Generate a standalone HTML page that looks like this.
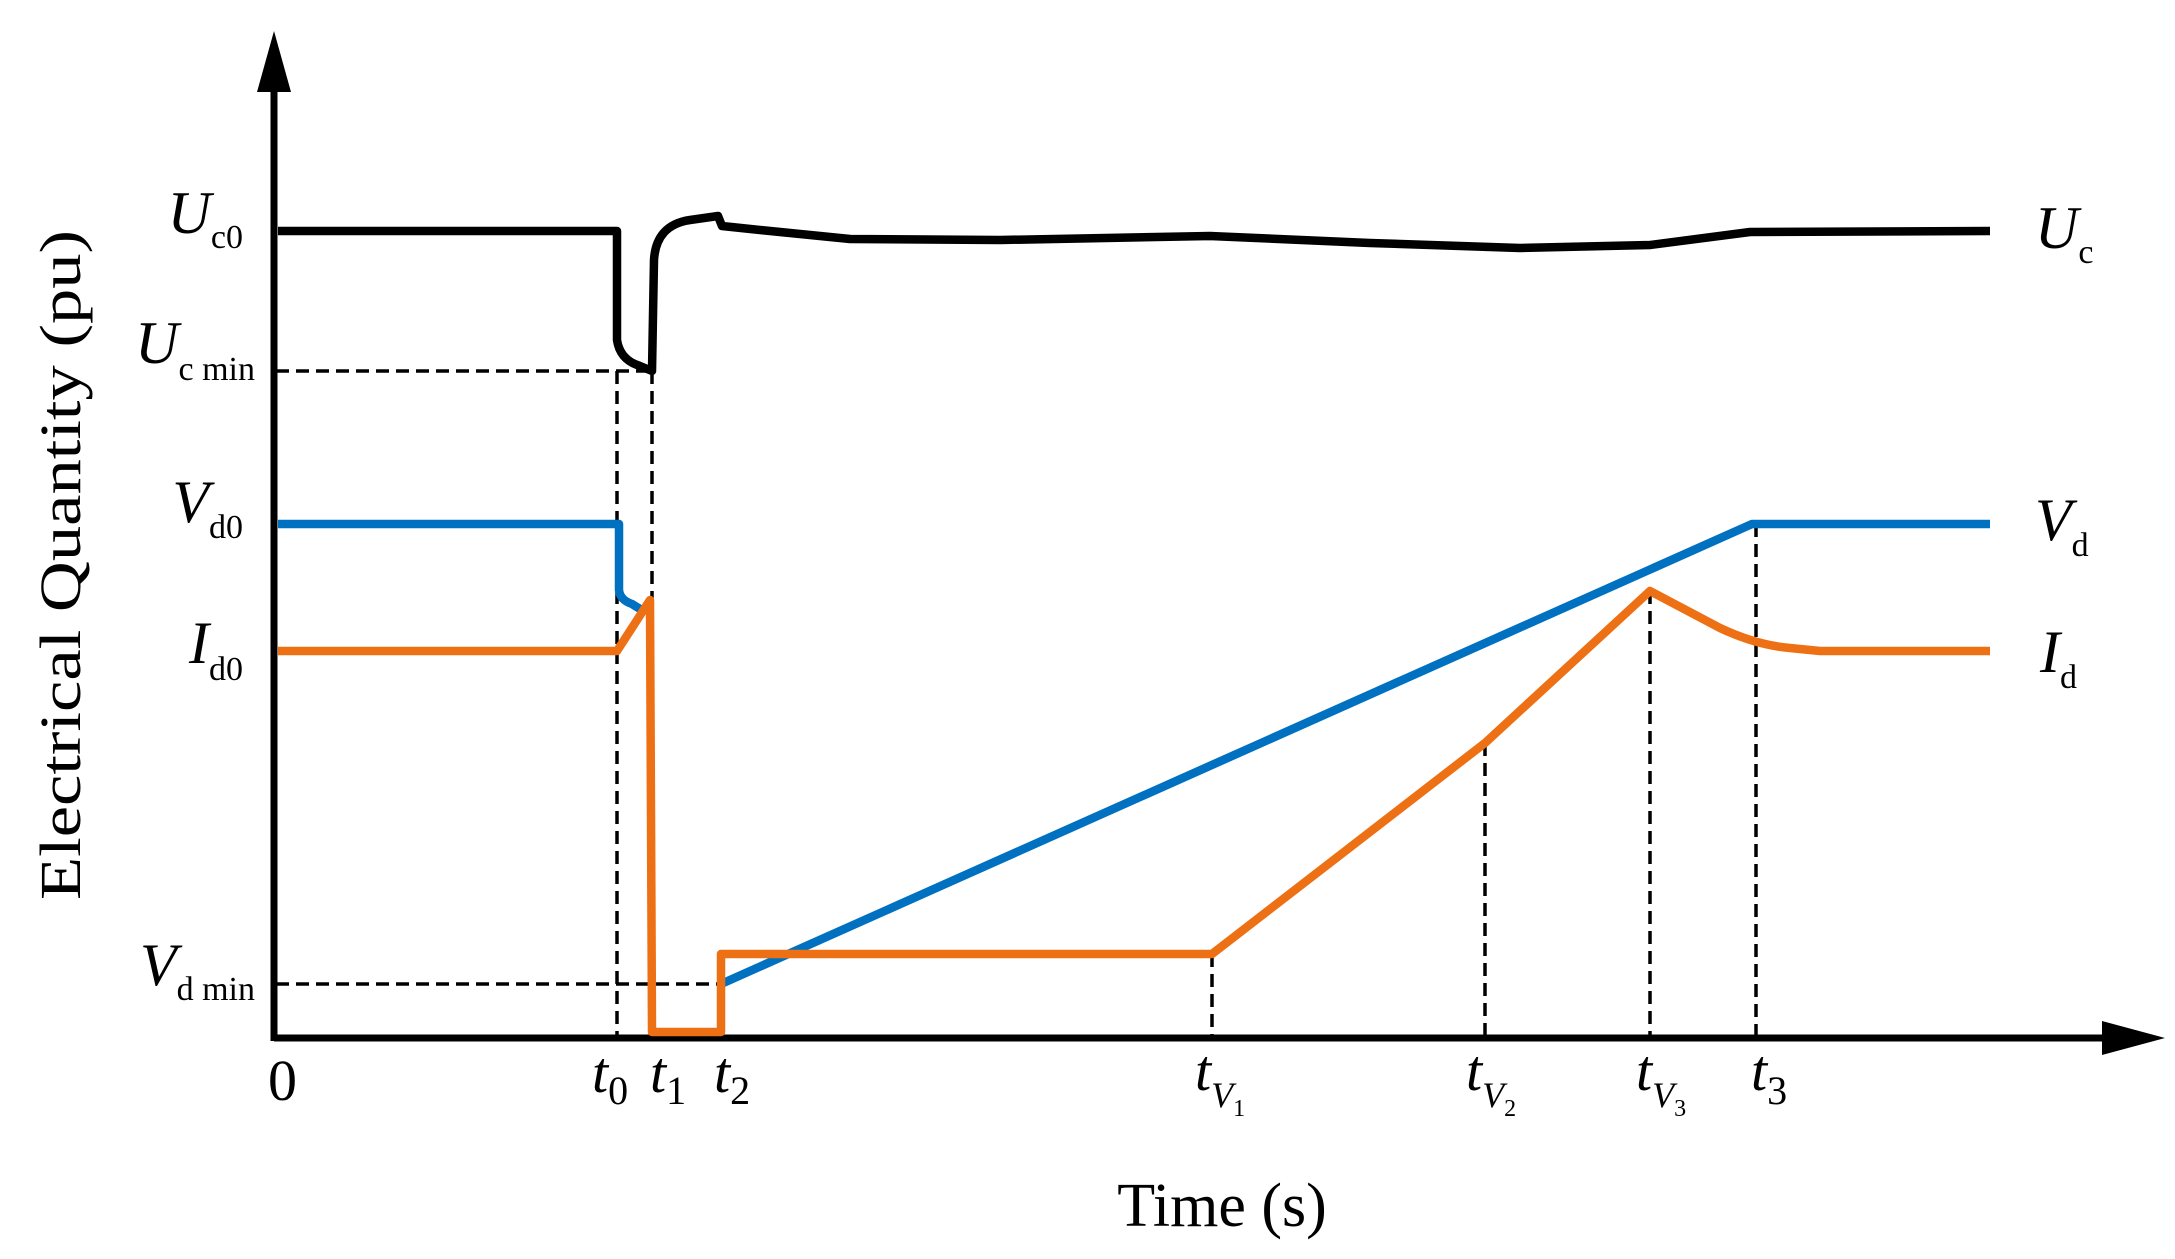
<!DOCTYPE html>
<html><head><meta charset="utf-8"><style>
html,body{margin:0;padding:0;background:#fff;}
svg{display:block;}
text{font-family:"Liberation Serif",serif;fill:#000;}
.i{font-style:italic;}
</style></head><body>
<svg width="2175" height="1259" viewBox="0 0 2175 1259" xmlns="http://www.w3.org/2000/svg">
<g stroke="#000" stroke-width="3.5" stroke-dasharray="13,7" fill="none">
<line x1="276" y1="371" x2="655" y2="371"/>
<line x1="276" y1="984" x2="721" y2="984"/>
<line x1="617" y1="371" x2="617" y2="1036"/>
<line x1="652" y1="371" x2="652" y2="1036"/>
<line x1="1212" y1="954" x2="1212" y2="1036"/>
<line x1="1485" y1="743" x2="1485" y2="1036"/>
<line x1="1650" y1="591" x2="1650" y2="1036"/>
<line x1="1756" y1="524" x2="1756" y2="1036"/>
</g>
<line x1="274" y1="1038" x2="2108" y2="1038" stroke="#000" stroke-width="7"/>
<line x1="274" y1="85" x2="274" y2="1041" stroke="#000" stroke-width="7"/>
<polygon points="274,31 257,92 291,92" fill="#000"/>
<polygon points="2165,1038 2102,1021 2102,1055" fill="#000"/>
<path d="M278,231 L617,231 L617,340 Q620,360 640,366 L652,371 L654,260 Q656,225 690,220 L718,216 L722,226 L760,230 L850,239 L1000,240 L1210,236 L1370,243 L1520,248 L1650,245 L1750,232 L1990,231" fill="none" stroke="#000" stroke-width="8.5" stroke-linejoin="round"/>
<path d="M278,524 L619,524 L619,590 Q620,600 632,604 L645,612 M721,984 L1752,524 L1990,524" fill="none" stroke="#0070c0" stroke-width="8.5" stroke-linejoin="round"/>
<path d="M278,651 L617,651 L650,600 L652,1032 L721,1032 L721,954 L1212,954 L1485,743 L1650,591 L1720,628 Q1756,645 1790,648 L1820,651 L1990,651" fill="none" stroke="#ed7014" stroke-width="8.5" stroke-linejoin="round"/>
<text x="243" y="233" text-anchor="end"><tspan class="i" font-size="60">U</tspan><tspan font-size="34" dy="15">c0</tspan></text>
<text x="255" y="363" text-anchor="end"><tspan class="i" font-size="60">U</tspan><tspan font-size="34" dy="17">c min</tspan></text>
<text x="243" y="522" text-anchor="end"><tspan class="i" font-size="60">V</tspan><tspan font-size="34" dy="16">d0</tspan></text>
<text x="243" y="663" text-anchor="end"><tspan class="i" font-size="60">I</tspan><tspan font-size="34" dy="17">d0</tspan></text>
<text x="255" y="985" text-anchor="end"><tspan class="i" font-size="60">V</tspan><tspan font-size="34" dy="15">d min</tspan></text>
<text x="2035" y="248"><tspan class="i" font-size="60">U</tspan><tspan font-size="34" dy="15">c</tspan></text>
<text x="2035" y="540"><tspan class="i" font-size="60">V</tspan><tspan font-size="34" dy="16">d</tspan></text>
<text x="2040" y="672"><tspan class="i" font-size="60">I</tspan><tspan font-size="34" dy="16">d</tspan></text>
<text x="268" y="1100" font-size="58">0</text>
<text x="592" y="1092"><tspan class="i" font-size="58">t</tspan><tspan font-size="40" dy="12">0</tspan></text>
<text x="650" y="1092"><tspan class="i" font-size="58">t</tspan><tspan font-size="40" dy="12">1</tspan></text>
<text x="714" y="1092"><tspan class="i" font-size="58">t</tspan><tspan font-size="40" dy="12">2</tspan></text>
<text x="1195" y="1090"><tspan class="i" font-size="58">t</tspan><tspan class="i" font-size="36" dy="17">V</tspan><tspan font-size="24" dy="9">1</tspan></text>
<text x="1466" y="1090"><tspan class="i" font-size="58">t</tspan><tspan class="i" font-size="36" dy="17">V</tspan><tspan font-size="24" dy="9">2</tspan></text>
<text x="1636" y="1090"><tspan class="i" font-size="58">t</tspan><tspan class="i" font-size="36" dy="17">V</tspan><tspan font-size="24" dy="9">3</tspan></text>
<text x="1751" y="1090"><tspan class="i" font-size="58">t</tspan><tspan font-size="40" dy="14">3</tspan></text>
<text x="1222" y="1226" font-size="62" text-anchor="middle">Time (s)</text>
<text transform="translate(80,565) rotate(-90)" font-size="58" text-anchor="middle" textLength="670" lengthAdjust="spacingAndGlyphs">Electrical Quantity (pu)</text>
</svg>
</body></html>
